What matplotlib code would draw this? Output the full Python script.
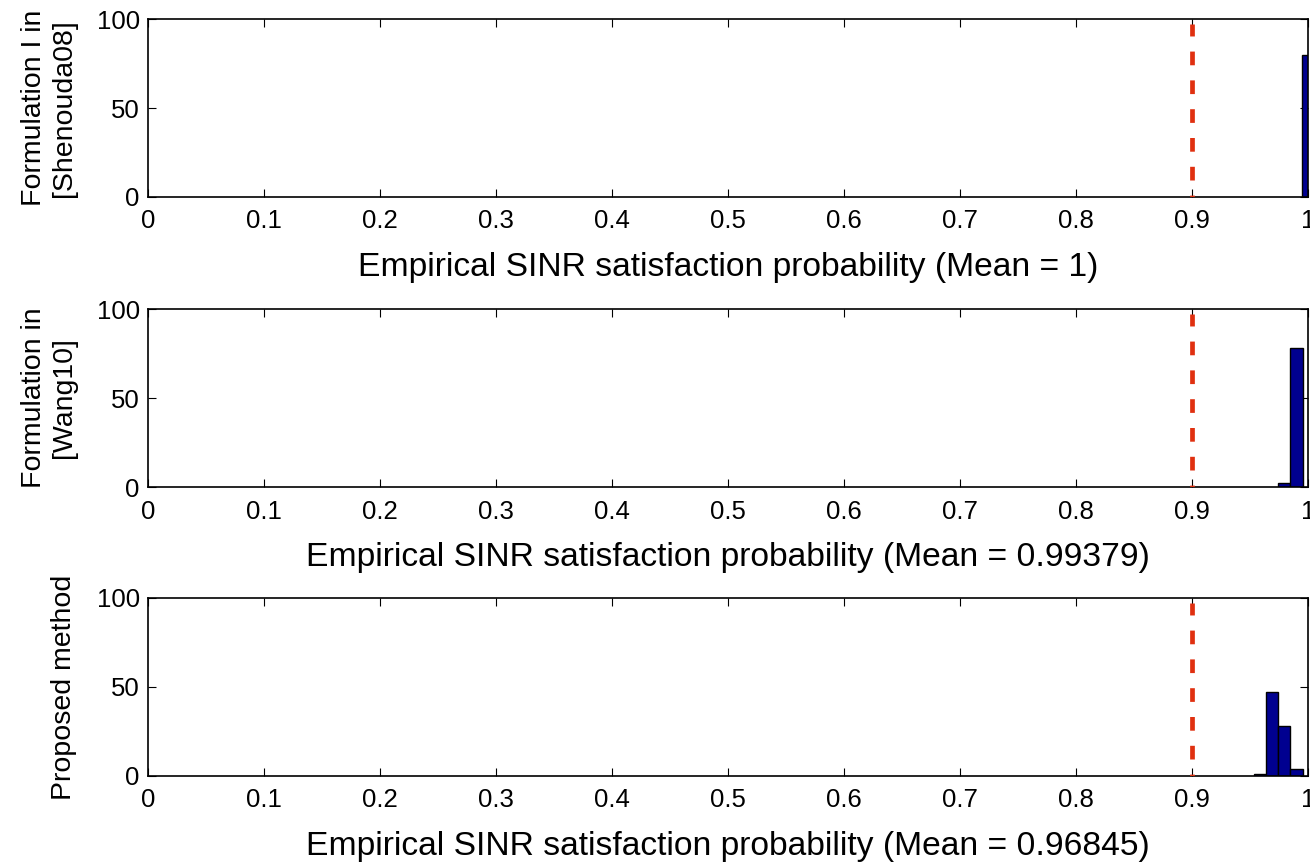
import matplotlib
matplotlib.use("Agg")
import matplotlib.pyplot as plt

# -----------------------------------------------------
# Data
# -----------------------------------------------------
ylabels = ["Formulation I in\n[Shenouda08]", "Formulation in\n[Wang10]", "Proposed method"]
means = ["1", "0.99379", "0.96845"]

centers_1 = [1.0]
counts_1 = [80]

centers_2 = [0.979, 0.990]
counts_2 = [2, 78]

centers_3 = [0.959, 0.969, 0.979, 0.990]
counts_3 = [1, 47, 28, 4]

bin_width = 0.0105
target = 0.9
xticks = [0, 0.1, 0.2, 0.3, 0.4, 0.5, 0.6, 0.7, 0.8, 0.9, 1]
xticklabels = ["0", "0.1", "0.2", "0.3", "0.4", "0.5", "0.6", "0.7", "0.8", "0.9", "1"]

plt.rcParams["font.family"] = ["Liberation Sans", "DejaVu Sans"]

fig = plt.figure(figsize=(13.1, 8.64), dpi=100)
bottoms = [0.772, 0.4363, 0.1019]
series = [(centers_1, counts_1), (centers_2, counts_2), (centers_3, counts_3)]

for i, (centers, counts) in enumerate(series):
    ax = fig.add_axes([0.113, bottoms[i], 0.8855, 0.206])
    ax.bar(centers, counts, width=bin_width, color="#000090",
           edgecolor="black", linewidth=1.0, zorder=2)
    ax.plot([target, target], [0, 97], color="#e03010", linestyle=(2.5, (2.9, 3.2)),
            linewidth=3.4, zorder=3)
    ax.set_xlim(0, 1)
    ax.set_ylim(0, 100)
    ax.set_xticks(xticks)
    ax.set_xticklabels(xticklabels)
    ax.set_yticks([0, 50, 100])
    ax.tick_params(direction="in", top=True, right=True, length=6,
                   labelsize=18.5, width=0.8)
    ax.tick_params(axis="x", pad=9)
    ax.tick_params(axis="y", pad=6)
    for sp in ax.spines.values():
        sp.set_linewidth(1.2)
    ax.set_xlabel(f"Empirical SINR satisfaction probability (Mean = {means[i]})",
                  fontsize=24.2, labelpad=13)
    ax.set_ylabel(ylabels[i], fontsize=20.5, labelpad=14, linespacing=1.2)

fig.savefig("out.png", dpi=100)
